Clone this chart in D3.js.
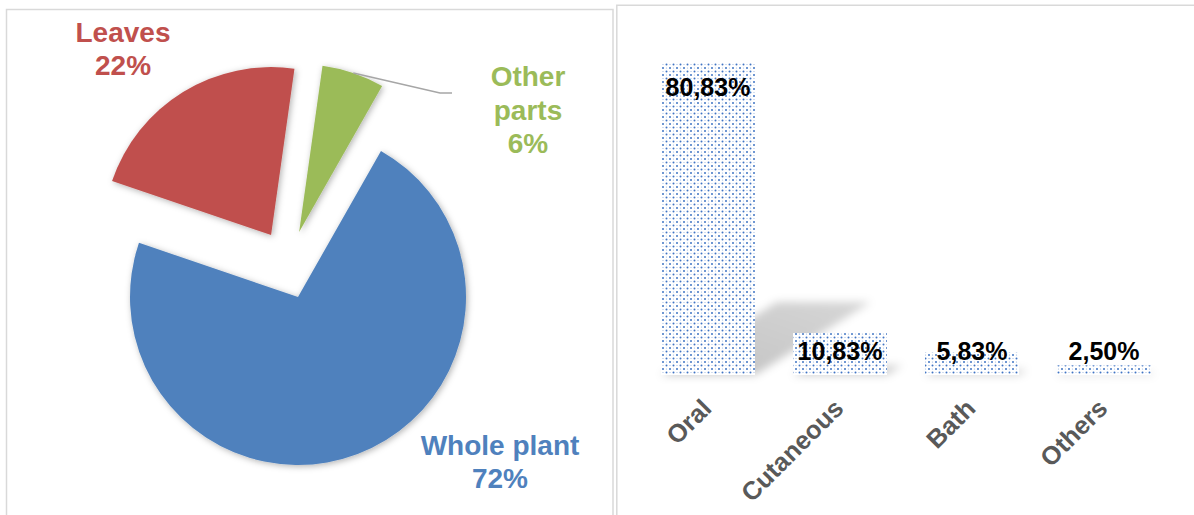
<!DOCTYPE html>
<html>
<head>
<meta charset="utf-8">
<script src="https://cdn.jsdelivr.net/npm/d3@7/dist/d3.min.js"></script>
<style>
  html, body { margin: 0; padding: 0; background: #fff; }
  svg { display: block; font-family: "Liberation Sans", Arial, sans-serif; }
</style>
</head>
<body>
<svg id="chart" width="1194" height="515"></svg>
<script>
// Plant parts used (pie)
const partNames   = ["Whole plant", "Leaves", "Other parts"];
const partValues  = [72, 22, 6];
const partLabels  = [["Whole plant", "72%"], ["Leaves", "22%"], ["Other", "parts", "6%"]];

// Routes of administration (bars)
const routeNames  = ["Oral", "Cutaneous", "Bath", "Others"];
const routeValues = [80.83, 10.83, 5.83, 2.50];
const routeLabels = ["80,83%", "10,83%", "5,83%", "2,50%"];

const svg = d3.select("#chart");
const defs = svg.append("defs");

// soft shadow for pie slices
const pieShadow = defs.append("filter").attr("id", "pieShadow")
  .attr("x", "-20%").attr("y", "-20%").attr("width", "140%").attr("height", "140%");
pieShadow.append("feDropShadow").attr("dx", 1.5).attr("dy", 1.5)
  .attr("stdDeviation", 3).attr("flood-color", "#000").attr("flood-opacity", 0.3);

// blur for bar perspective shadows
const barBlur = defs.append("filter").attr("id", "barBlur")
  .attr("x", "-30%").attr("y", "-30%").attr("width", "160%").attr("height", "160%");
barBlur.append("feGaussianBlur").attr("stdDeviation", 4.5);

// dotted fill for bars
const pat = defs.append("pattern").attr("id", "dots")
  .attr("patternUnits", "userSpaceOnUse").attr("width", 7).attr("height", 7);
pat.append("rect").attr("width", 7).attr("height", 7).attr("fill", "#fff");
pat.append("circle").attr("cx", 1.5).attr("cy", 1.5).attr("r", 1.0).attr("fill", "#3f74c4");
pat.append("circle").attr("cx", 5).attr("cy", 5).attr("r", 1.0).attr("fill", "#3f74c4");
pat.append("circle").attr("cx", 5).attr("cy", 1.5).attr("r", 0.6).attr("fill", "#9ab6df");
pat.append("circle").attr("cx", 1.5).attr("cy", 5).attr("r", 0.6).attr("fill", "#9ab6df");

// shadow tint fading away from the bars
const shGrad = defs.append("linearGradient").attr("id", "shadeGrad")
  .attr("x1", 0).attr("y1", 1).attr("x2", 1).attr("y2", 0);
shGrad.append("stop").attr("offset", 0).attr("stop-color", "#000").attr("stop-opacity", 0.24);
shGrad.append("stop").attr("offset", 1).attr("stop-color", "#000").attr("stop-opacity", 0.16);

// panel frames
svg.append("rect").attr("x", 6.5).attr("y", 9.5).attr("width", 606.5).attr("height", 530)
  .attr("fill", "none").attr("stroke", "#d9d9d9").attr("stroke-width", 1.5);
svg.append("path").attr("d", "M616.8,520V5.2H1200")
  .attr("fill", "none").attr("stroke", "#d9d9d9").attr("stroke-width", 1.5);

// ---------- pie ----------
const pieColors = ["#4f81bd", "#c0504d", "#9bbb59"];
const cx = 298, cy = 297, R = 168;
const deg = Math.PI / 180;
// slice offsets (pull-out), angle measured clockwise from 12 o'clock
const explode = [
  { angle: 0, dist: 0 },
  { angle: 336.5, dist: 67.5 },
  { angle: 1, dist: 65 }
];

const pie = d3.pie().sort(null).value(d => d)
  .startAngle(29.6 * deg).endAngle(29.6 * deg + 2 * Math.PI);
const arcs = pie(partValues);
const arc = d3.arc().innerRadius(0).outerRadius(R);

const pieG = svg.append("g").attr("transform", `translate(${cx},${cy})`);
pieG.selectAll("path.slice").data(arcs).join("path")
  .attr("class", "slice")
  .attr("transform", (d, i) => {
    const a = explode[i].angle * deg, r = explode[i].dist;
    return `translate(${Math.sin(a) * r},${-Math.cos(a) * r})`;
  })
  .attr("d", arc)
  .attr("fill", (d, i) => pieColors[i])
  .attr("filter", "url(#pieShadow)");

// leader line for the small slice
{
  const i = 2, d = arcs[i];
  const mid = (d.startAngle + d.endAngle) / 2;
  const a = explode[i].angle * deg, r = explode[i].dist;
  const ox = Math.sin(a) * r, oy = -Math.cos(a) * r;
  const p0 = [ox + Math.sin(mid) * R, oy - Math.cos(mid) * R];
  const p1 = [142, -204], p2 = [154, -204];
  pieG.append("path")
    .attr("d", d3.line()([p0, p1, p2]))
    .attr("fill", "none").attr("stroke", "#a6a6a6").attr("stroke-width", 1.5);
}

// slice labels (position of first baseline, relative to pie centre)
const labelPos = [[202, 158], [-175, -255], [230, -211]];
const lineGap = [33, 33, 33.5];
pieG.selectAll("text.plabel").data(partLabels).join("text")
  .attr("class", "plabel")
  .attr("text-anchor", "middle")
  .attr("font-size", 28).attr("font-weight", "bold")
  .attr("fill", (d, i) => pieColors[i])
  .each(function (lines, i) {
    const t = d3.select(this);
    lines.forEach((s, k) => {
      t.append("tspan").attr("x", labelPos[i][0]).attr("y", labelPos[i][1] + k * lineGap[i]).text(s);
    });
  });

// ---------- bars ----------
const base = 375;
const x = d3.scaleBand().domain(routeNames).range([642, 1170]).paddingInner(0.288).paddingOuter(0.144);
const y = d3.scaleLinear().domain([0, d3.max(routeValues)]).range([base, 62]);

const barData = routeNames.map((n, i) => ({ name: n, value: routeValues[i], label: routeLabels[i] }));

// perspective shadows falling up and to the right
const skew = 0.37, squash = 0.233;
svg.append("g").attr("filter", "url(#barBlur)")
  .selectAll("path").data(barData).join("path")
  .attr("d", d => {
    const x0 = x(d.name), x1 = x0 + x.bandwidth(), h = base - y(d.value);
    return d3.line()([
      [x0, base], [x1, base],
      [x1 + skew * h, base - squash * h],
      [x0 + skew * h, base - squash * h]
    ]) + "Z";
  })
  .attr("fill", "url(#shadeGrad)");

svg.append("g").selectAll("rect").data(barData).join("rect")
  .attr("x", d => x(d.name)).attr("width", x.bandwidth())
  .attr("y", d => y(d.value)).attr("height", d => base - y(d.value))
  .attr("fill", "url(#dots)");

svg.append("g").selectAll("text").data(barData).join("text")
  .attr("x", d => x(d.name) + x.bandwidth() / 2)
  .attr("y", d => Math.min(y(d.value) + 34, base - 15))
  .attr("text-anchor", "middle")
  .attr("font-size", 25).attr("font-weight", "bold").attr("fill", "#000")
  .text(d => d.label);

// category axis, labels tilted 45 degrees
svg.append("g").selectAll("text").data(routeNames).join("text")
  .attr("transform", d => `translate(${x(d) + x.bandwidth() / 2 + 5},410) rotate(-45)`)
  .attr("text-anchor", "end")
  .attr("font-size", 25.5).attr("font-weight", "bold").attr("fill", "#595959")
  .text(d => d);
</script>
</body>
</html>
